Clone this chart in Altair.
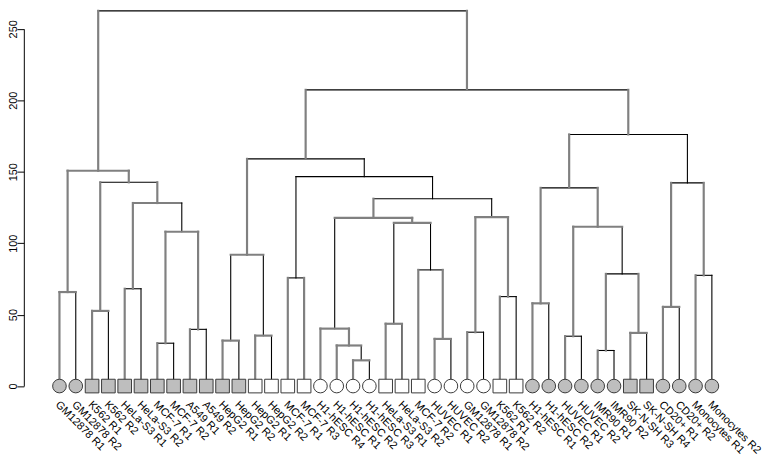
import altair as alt
import pandas as pd

# ---------------- leaves (left to right) ----------------
leaf_labels = [
    "GM12878 R1", "GM12878 R2", "K562 R1", "K562 R2", "HeLa-S3 R1", "HeLa-S3 R2",
    "MCF-7 R1", "MCF-7 R2", "A549 R1", "A549 R2", "HepG2 R1", "HepG2 R2",
    "HepG2 R1", "HepG2 R2", "MCF-7 R1", "MCF-7 R3", "H1-hESC R4", "H1-hESC R1",
    "H1-hESC R2", "H1-hESC R3", "HeLa-S3 R1", "HeLa-S3 R2", "MCF-7 R2", "HUVEC R1",
    "HUVEC R2", "GM12878 R1", "GM12878 R2", "K562 R1", "K562 R2",
    "H1-hESC R1", "H1-hESC R2", "HUVEC R1", "HUVEC R2", "IMR90 R1", "IMR90 R2",
    "SK-N-SH R3", "SK-N-SH R4", "CD20+ R1", "CD20+ R2", "Monocytes R1", "Monocytes R2",
]
leaf_shapes = [
    "circle", "circle", "square", "square", "square", "square",
    "square", "square", "square", "square", "square", "square",
    "square", "square", "square", "square", "circle", "circle",
    "circle", "circle", "square", "square", "square", "circle",
    "circle", "circle", "circle", "square", "square",
    "circle", "circle", "circle", "circle", "circle", "circle",
    "square", "square", "circle", "circle", "circle", "circle",
]
leaf_groups = [
    "gray", "gray", "gray", "gray", "gray", "gray",
    "gray", "gray", "gray", "gray", "gray", "gray",
    "white", "white", "white", "white", "white", "white",
    "white", "white", "white", "white", "white", "white",
    "white", "white", "white", "white", "white",
    "gray", "gray", "gray", "gray", "gray", "gray",
    "gray", "gray", "gray", "gray", "gray", "gray",
]

# ---------------- merges (hclust style: negative = leaf, positive = earlier merge) ----------------
merge_left = [-1, -3, -5, -7, -9, 4, 3, 2, 1, -11, -13, 10, -15, -19, -18, -17, -21, -24, -23, 17,
              16, -26, -28, 22, 21, 13, 12, -30, -32, -34, -36, 30, 29, 28, -38, -40, 35, 34, 27, 9]
merge_right = [-2, -4, -6, -8, -10, 5, 6, 7, 8, -12, -14, 11, -16, -20, 14, 15, -22, -25, 18, 19,
               20, -27, -29, 23, 24, 25, 26, -31, -33, -35, -37, 31, 32, 33, -39, -41, 36, 37, 38, 39]
merge_height = [65.8, 52.6, 68.1, 30.0, 39.7, 108.0, 128.1, 142.6, 150.7, 31.8,
                35.3, 91.9, 75.7, 18.0, 28.4, 40.2, 43.6, 33.0, 81.3, 114.2,
                117.7, 37.7, 62.6, 118.2, 131.1, 146.6, 159.0, 57.9, 34.9, 24.9,
                37.2, 78.5, 111.5, 138.7, 55.4, 77.5, 142.2, 176.1, 207.3, 262.6]
# segment styles: g = grey (thick), k = black (thin)
style_left_vert = ["g", "g", "g", "g", "g", "g", "g", "g", "g", "g",
                   "g", "k", "g", "g", "g", "g", "g", "g", "g", "k",
                   "k", "g", "g", "g", "g", "k", "g", "g", "g", "g",
                   "g", "g", "g", "g", "g", "g", "g", "g", "g", "g"]
style_horiz = ["g", "g", "k", "k", "k", "g", "k", "k", "g", "g",
               "g", "g", "k", "g", "g", "g", "g", "g", "k", "g",
               "g", "k", "k", "g", "k", "k", "k", "g", "k", "k",
               "g", "k", "g", "k", "g", "k", "k", "k", "k", "k"]
style_right_vert = ["k", "k", "k", "k", "k", "g", "k", "g", "g", "k",
                    "k", "k", "g", "k", "k", "g", "k", "k", "g", "k",
                    "g", "k", "k", "g", "k", "k", "k", "k", "k", "k",
                    "k", "g", "k", "g", "k", "k", "g", "k", "g", "g"]

# ---------------- build segments ----------------
node_x, node_h = {}, {}


def pos(ref):
    if ref < 0:
        return float(-ref), 0.0
    return node_x[ref], node_h[ref]


rows = []
for k in range(len(merge_height)):
    xl, hl = pos(merge_left[k])
    xr, hr = pos(merge_right[k])
    h = merge_height[k]
    node_x[k + 1] = (xl + xr) / 2.0
    node_h[k + 1] = h
    rows.append(dict(x=xl, x2=xl, y=hl, y2=h, s=style_left_vert[k]))
    rows.append(dict(x=xr, x2=xr, y=hr, y2=h, s=style_right_vert[k]))
    rows.append(dict(x=xl, x2=xr, y=h, y2=h, s=style_horiz[k]))

seg = pd.DataFrame(rows)
seg_gray = seg[seg.s == "g"]
seg_black = seg[seg.s == "k"]

fill_map = {"gray": "#bebebe", "white": "#ffffff"}
leaves = pd.DataFrame({
    "i": list(range(1, len(leaf_labels) + 1)),
    "label": leaf_labels,
    "shape": leaf_shapes,
    "fill": [fill_map[g] for g in leaf_groups],
    "base": [0.0] * len(leaf_labels),
})

# ---------------- scales ----------------
xs = alt.Scale(domain=[1, 41], range=[60, 719.3], nice=False, zero=False)
ys = alt.Scale(domain=[0, 250], range=[387.7, 26.7], nice=False, zero=False)
yaxis = alt.Axis(
    values=[0, 50, 100, 150, 200, 250], offset=-24, grid=False,
    domainColor="black", domainWidth=1, tickColor="black", tickWidth=1, tickSize=7,
    labelAngle=-90, labelAlign="center", labelBaseline="alphabetic", labelPadding=0.5,
    labelFont="Liberation Sans", labelFontSize=11, labelColor="black", title=None,
)


def xenc(f):
    return alt.X(f, type="quantitative", scale=xs, axis=None)


def yenc(f):
    return alt.Y(f, type="quantitative", scale=ys, axis=yaxis)


gray_lines = alt.Chart(seg_gray).mark_rule(color="#808080", strokeWidth=2.2, strokeCap="square").encode(
    x=xenc("x"), x2="x2", y=yenc("y"), y2="y2"
)
black_lines = alt.Chart(seg_black).mark_rule(color="black", strokeWidth=1.1, strokeCap="square").encode(
    x=xenc("x"), x2="x2", y=yenc("y"), y2="y2"
)
markers = alt.Chart(leaves).mark_point(filled=True, size=190, stroke="#3a3a3a", strokeWidth=1, opacity=1).encode(
    x=xenc("i"), y=yenc("base"),
    shape=alt.Shape("shape:N", scale=None),
    fill=alt.Fill("fill:N", scale=None),
)
labels = alt.Chart(leaves).mark_text(
    angle=45, align="left", baseline="top", font="Liberation Sans", fontSize=11,
    color="black", dx=10.6, dy=7.8,
).encode(x=xenc("i"), y=yenc("base"), text="label:N")

chart = alt.layer(black_lines, gray_lines, markers, labels).properties(
    width=774, height=455, autosize="none",
    padding={"left": -8, "top": -8, "right": 0, "bottom": 0},
    background="white",
).configure_view(strokeWidth=0)

chart.save("out.html", embed_options={"renderer": "svg", "actions": False})
